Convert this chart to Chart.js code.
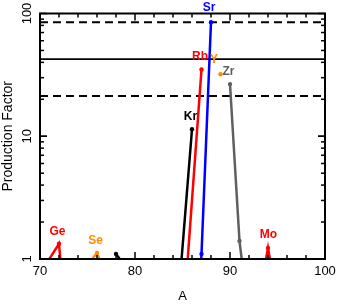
<!DOCTYPE html>
<html>
<head>
<meta charset="utf-8">
<script src="https://cdn.jsdelivr.net/npm/chart.js@4.4.0/dist/chart.umd.min.js"></script>
<style>
  html, body { margin: 0; padding: 0; background: #fff; }
  #wrap { width: 338px; height: 304px; }
</style>
</head>
<body>
<div id="wrap"><canvas id="chart"></canvas></div>
<script>
// mass number A and production factor for each element
const geA = [70, 72, 73, 74, 76];
const geF = [0.76, 1.33, 0.17, 0.2, 0.1];
const seA = [74, 76, 77, 78, 80, 82];
const seF = [0.71, 1.12, 0.71, 0.5, 0.3, 0.2];
const krA = [78, 80, 82, 83, 84, 86];
const krF = [1.1, 0.68, 0.3, 0.2, 0.135, 11.4];
const rbA = [85, 87];
const rbF = [0.26, 35];
const srA = [86, 87, 88];
const srF = [0.05, 1.1, 85];
const yA = [89];
const yF = [32];
const zrA = [90, 91, 92, 94, 96];
const zrF = [26.6, 1.4, 0.33, 0.3, 0.2];
const moA = [92, 94, 95, 96, 97, 98, 100];
const moF = [0.18, 1.23, 0.44, 0.3, 0.2, 0.2, 0.1];

// mean production factor and the factor-of-two band
const meanF = 42.5;
const bandF = [meanF * 2, meanF / 2];
const aRange = [70, 100];
const yRange = [1, 100];
const xTickLabels = [70, 80, 90, 100];
const yTickLabels = [1, 10, 100];

const FONT = 'Arial, "Liberation Sans", Helvetica, sans-serif';

const series = [
    { name: 'Ge', a: geA, f: geF, color: '#ff0000' },
    { name: 'Se', a: seA, f: seF, color: '#ff8c00' },
    { name: 'Kr', a: krA, f: krF, color: '#000000' },
    { name: 'Rb', a: rbA, f: rbF, color: '#ff0000' },
    { name: 'Sr', a: srA, f: srF, color: '#0000ff' },
    { name: 'Y',  a: yA,  f: yF,  color: '#ff8c00' },
    { name: 'Zr', a: zrA, f: zrF, color: '#606060' },
    { name: 'Mo', a: moA, f: moF, color: '#ff0000' }
];

// small nudges for the element labels that sit off the usual spot
const labelShift = { Y: [-5, -2], Sr: [-0.5, -2], Mo: [2, -0.5] };

const toPoints = (a, f) => a.map((v, i) => ({ x: v, y: f[i] }));

const datasets = series.map((s) => ({
    label: s.name,
    data: toPoints(s.a, s.f),
    showLine: true,
    borderColor: s.color,
    backgroundColor: s.color,
    borderWidth: 2.5,
    pointRadius: 2.2,
    pointBorderWidth: 0,
    clip: 0,
    order: 0
}));

// reference lines: solid mean, dashed x2 and /2
datasets.push({
    label: 'mean',
    data: aRange.map((a) => ({ x: a, y: meanF })),
    showLine: true, borderColor: '#000', borderWidth: 1.6,
    pointRadius: 0, clip: 0, order: 1
});
bandF.forEach((v) => {
    datasets.push({
        label: 'band',
        data: aRange.map((a) => ({ x: a, y: v })),
        showLine: true, borderColor: '#000', borderWidth: 2,
        borderDash: [8, 5], pointRadius: 0, clip: 0, order: 1
    });
});

const isPow10 = (v) => Math.abs(Math.log10(v) - Math.round(Math.log10(v))) < 1e-9;

const frameAndTicks = {
    id: 'frameAndTicks',
    afterDatasetsDraw(chart) {
        const { ctx, chartArea: a, scales: { x, y } } = chart;
        ctx.save();
        ctx.strokeStyle = '#000';
        ctx.lineWidth = 1.5;
        const seg = (x1, y1, x2, y2) => {
            ctx.beginPath(); ctx.moveTo(x1, y1); ctx.lineTo(x2, y2); ctx.stroke();
        };
        // x ticks every 2, longer at the tens, on bottom and top
        for (let v = aRange[0]; v <= aRange[1]; v += 2) {
            const px = x.getPixelForValue(v);
            const len = v % 10 === 0 ? 7 : 4;
            seg(px, a.bottom, px, a.bottom - len);
            seg(px, a.top, px, a.top + len);
        }
        // log y ticks, left and right
        for (let d = 1; d < yRange[1]; d *= 10) {
            for (let m = 1; m <= 10; m++) {
                const v = d * m;
                const py = y.getPixelForValue(v);
                const len = isPow10(v) ? 7 : 4;
                seg(a.left, py, a.left + len, py);
                seg(a.right, py, a.right - len, py);
            }
        }
        ctx.lineWidth = 2;
        ctx.strokeRect(a.left, a.top, a.right - a.left, a.bottom - a.top);

        // rotated y tick labels
        ctx.fillStyle = '#000';
        ctx.font = '13px ' + FONT;
        ctx.textAlign = 'center';
        ctx.textBaseline = 'middle';
        yTickLabels.forEach((v) => {
            ctx.save();
            ctx.translate(a.left - 13, y.getPixelForValue(v));
            ctx.rotate(-Math.PI / 2);
            ctx.fillText(String(v), 0, 0);
            ctx.restore();
        });

        // element labels above each peak
        ctx.font = 'bold 12px ' + FONT;
        series.forEach((s) => {
            let k = 0;
            s.f.forEach((v, i) => { if (v > s.f[k]) k = i; });
            const sh = labelShift[s.name] || [0, 0];
            const px = x.getPixelForValue(s.a[k]) - 1.5 + sh[0];
            const py = y.getPixelForValue(s.f[k]) - 12.5 + sh[1];
            ctx.fillStyle = s.color;
            ctx.fillText(s.name, px, py);
        });
        ctx.restore();
    }
};

new Chart(document.getElementById('chart'), {
    type: 'scatter',
    data: { datasets: datasets },
    options: {
        responsive: true,
        maintainAspectRatio: false,
        animation: false,
        layout: { padding: { left: 0, right: 13, top: 13.5, bottom: 0 } },
        plugins: { legend: { display: false }, tooltip: { enabled: false } },
        scales: {
            x: {
                type: 'linear',
                min: aRange[0], max: aRange[1],
                afterFit: (s) => { s.height = 45; s.paddingLeft = 0; s.paddingRight = 0; },
                afterBuildTicks: (s) => { s.ticks = xTickLabels.map((v) => ({ value: v })); },
                grid: { display: false, drawTicks: false },
                border: { display: false },
                ticks: { padding: 5, maxRotation: 0, autoSkip: false, color: '#000', font: { size: 13, family: FONT } },
                title: { display: true, text: 'A', color: '#000', padding: 0, font: { size: 13, family: FONT } }
            },
            y: {
                type: 'logarithmic',
                min: yRange[0], max: yRange[1],
                afterFit: (s) => { s.width = 40; s.paddingTop = 0; s.paddingBottom = 0; },
                grid: { display: false, drawTicks: false },
                border: { display: false },
                ticks: { display: false },
                title: { display: true, text: 'Production Factor', color: '#000', padding: 0, font: { size: 14, family: FONT } }
            }
        }
    },
    plugins: [frameAndTicks]
});
</script>
</body>
</html>
